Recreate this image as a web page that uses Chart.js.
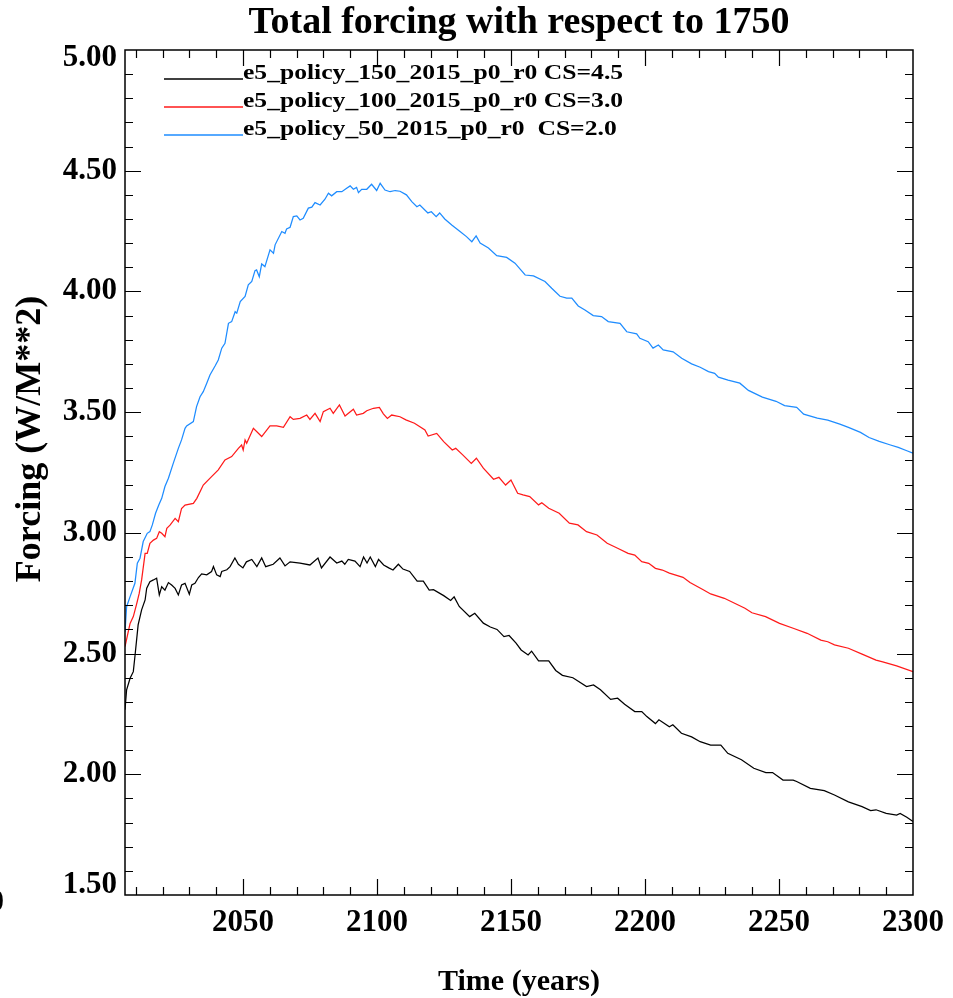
<!DOCTYPE html>
<html>
<head>
<meta charset="utf-8">
<script src="https://cdn.jsdelivr.net/npm/chart.js@4.4.0/dist/chart.umd.min.js"></script>
<style>
  html, body { margin: 0; padding: 0; background: #fff; }
  #wrap { width: 953px; height: 998px; }
</style>
</head>
<body>
<div id="wrap"><canvas id="forcingChart" width="953" height="998"></canvas></div>
<script>
// Series (year, W/m^2)
const blackYears = [2006.0, 2006.6, 2007.9, 2009.1, 2009.7, 2010.9, 2012.2, 2013.5, 2014.1, 2015.3, 2016.6, 2017.8, 2018.8, 2019.7, 2020.9, 2022.2, 2023.4, 2024.7, 2025.9, 2027.1, 2028.4, 2030.0, 2030.9, 2032.1, 2033.4, 2034.6, 2036.5, 2038.3, 2039.0, 2040.2, 2041.5, 2042.1, 2044.0, 2045.2, 2047.0, 2048.3, 2050.0, 2051.3, 2053.3, 2055.2, 2057.0, 2058.5, 2061.3, 2063.8, 2065.7, 2067.6, 2071.3, 2075.0, 2078.0, 2079.3, 2082.5, 2085.0, 2086.9, 2088.0, 2089.3, 2091.8, 2093.7, 2095.0, 2096.3, 2097.5, 2099.4, 2100.6, 2102.5, 2104.4, 2106.0, 2108.0, 2109.7, 2112.2, 2115.0, 2117.3, 2119.5, 2121.1, 2124.9, 2127.5, 2128.8, 2130.7, 2134.6, 2136.5, 2139.7, 2142.3, 2144.8, 2147.4, 2149.3, 2151.9, 2153.8, 2156.4, 2157.7, 2160.3, 2164.1, 2166.7, 2169.2, 2173.1, 2178.2, 2180.8, 2183.4, 2187.2, 2189.8, 2192.4, 2196.2, 2198.8, 2200.7, 2203.9, 2205.2, 2209.1, 2210.4, 2213.6, 2217.4, 2220.6, 2224.5, 2228.3, 2230.9, 2236.0, 2240.6, 2245.1, 2247.6, 2251.5, 2255.3, 2256.6, 2261.7, 2266.9, 2270.7, 2275.9, 2281.0, 2284.2, 2286.2, 2290.0, 2293.9, 2295.2, 2297.7, 2300.0];
const blackValues = [2.267, 2.350, 2.398, 2.425, 2.488, 2.619, 2.681, 2.722, 2.771, 2.798, 2.805, 2.812, 2.743, 2.777, 2.763, 2.794, 2.784, 2.770, 2.743, 2.784, 2.791, 2.746, 2.784, 2.791, 2.815, 2.830, 2.826, 2.840, 2.861, 2.826, 2.819, 2.840, 2.847, 2.860, 2.896, 2.870, 2.855, 2.880, 2.890, 2.860, 2.896, 2.860, 2.870, 2.896, 2.863, 2.880, 2.875, 2.867, 2.896, 2.855, 2.900, 2.875, 2.883, 2.870, 2.890, 2.883, 2.860, 2.900, 2.875, 2.900, 2.860, 2.890, 2.867, 2.855, 2.846, 2.870, 2.850, 2.840, 2.800, 2.800, 2.763, 2.765, 2.740, 2.720, 2.735, 2.695, 2.653, 2.667, 2.626, 2.610, 2.600, 2.570, 2.575, 2.543, 2.515, 2.494, 2.510, 2.470, 2.470, 2.430, 2.410, 2.400, 2.363, 2.370, 2.350, 2.310, 2.315, 2.290, 2.260, 2.260, 2.239, 2.210, 2.226, 2.197, 2.205, 2.170, 2.155, 2.135, 2.121, 2.121, 2.087, 2.060, 2.025, 2.007, 2.007, 1.976, 1.976, 1.970, 1.942, 1.932, 1.914, 1.886, 1.866, 1.850, 1.853, 1.838, 1.831, 1.838, 1.822, 1.804];

const redYears = [2006.0, 2007.2, 2007.9, 2009.1, 2010.4, 2011.3, 2012.2, 2013.5, 2014.3, 2015.3, 2016.6, 2017.8, 2018.8, 2019.7, 2020.9, 2021.6, 2022.8, 2024.7, 2025.9, 2027.1, 2028.4, 2031.5, 2032.8, 2035.2, 2038.3, 2040.8, 2043.3, 2045.8, 2048.3, 2049.5, 2050.1, 2050.8, 2051.4, 2053.9, 2057.0, 2060.1, 2062.6, 2065.1, 2067.6, 2068.8, 2071.3, 2073.8, 2075.0, 2076.9, 2078.8, 2080.0, 2082.5, 2083.7, 2086.0, 2088.1, 2091.2, 2092.4, 2094.9, 2096.2, 2098.7, 2100.9, 2102.4, 2103.9, 2105.5, 2108.6, 2110.8, 2114.0, 2117.9, 2119.1, 2122.3, 2124.9, 2128.1, 2129.4, 2132.0, 2135.2, 2137.1, 2139.7, 2143.5, 2145.5, 2148.0, 2150.0, 2152.5, 2154.5, 2157.0, 2160.3, 2161.5, 2164.1, 2168.0, 2171.8, 2175.0, 2178.2, 2182.1, 2185.9, 2189.8, 2193.7, 2196.2, 2198.8, 2201.4, 2203.9, 2206.5, 2209.1, 2214.2, 2216.8, 2221.9, 2224.5, 2229.6, 2234.8, 2237.3, 2239.9, 2245.0, 2250.2, 2255.3, 2260.5, 2265.6, 2268.2, 2270.7, 2275.9, 2281.0, 2286.2, 2288.7, 2293.9, 2300.0];
const redValues = [2.529, 2.590, 2.625, 2.653, 2.708, 2.749, 2.805, 2.915, 2.915, 2.957, 2.970, 2.977, 3.005, 2.998, 2.984, 3.019, 3.032, 3.060, 3.046, 3.101, 3.115, 3.122, 3.143, 3.198, 3.233, 3.261, 3.302, 3.316, 3.350, 3.364, 3.343, 3.385, 3.371, 3.433, 3.399, 3.443, 3.443, 3.437, 3.481, 3.470, 3.474, 3.488, 3.470, 3.495, 3.461, 3.502, 3.516, 3.495, 3.530, 3.484, 3.512, 3.488, 3.495, 3.506, 3.516, 3.520, 3.493, 3.474, 3.488, 3.481, 3.468, 3.454, 3.426, 3.401, 3.412, 3.378, 3.343, 3.350, 3.323, 3.288, 3.309, 3.268, 3.222, 3.230, 3.198, 3.219, 3.164, 3.157, 3.150, 3.116, 3.125, 3.102, 3.081, 3.040, 3.033, 3.005, 2.991, 2.957, 2.936, 2.915, 2.908, 2.881, 2.874, 2.853, 2.846, 2.833, 2.816, 2.794, 2.763, 2.747, 2.729, 2.701, 2.688, 2.669, 2.653, 2.625, 2.605, 2.584, 2.556, 2.549, 2.536, 2.522, 2.498, 2.473, 2.466, 2.449, 2.425];

const blueYears = [2006.0, 2006.6, 2007.9, 2009.7, 2010.6, 2011.6, 2012.8, 2014.3, 2015.3, 2016.2, 2017.4, 2018.6, 2019.7, 2020.9, 2022.2, 2024.0, 2025.9, 2027.1, 2028.4, 2029.0, 2031.5, 2032.7, 2034.0, 2035.2, 2036.5, 2037.7, 2039.6, 2040.8, 2042.1, 2043.3, 2044.6, 2045.8, 2047.1, 2047.7, 2049.0, 2050.8, 2052.0, 2053.3, 2054.5, 2055.1, 2056.1, 2057.0, 2058.2, 2060.1, 2061.4, 2062.0, 2064.5, 2065.7, 2066.3, 2067.6, 2068.8, 2070.1, 2071.3, 2072.5, 2074.4, 2075.7, 2076.9, 2078.8, 2080.6, 2081.9, 2083.1, 2085.0, 2086.9, 2088.7, 2090.0, 2091.2, 2092.4, 2093.1, 2094.3, 2096.2, 2098.0, 2099.9, 2101.2, 2103.0, 2104.9, 2106.8, 2108.6, 2111.0, 2113.0, 2114.9, 2116.0, 2119.0, 2120.3, 2122.1, 2123.4, 2125.3, 2127.9, 2131.0, 2133.4, 2135.4, 2137.0, 2138.5, 2141.6, 2144.7, 2148.4, 2151.5, 2155.3, 2158.4, 2162.7, 2165.2, 2168.3, 2170.8, 2172.7, 2175.1, 2177.6, 2180.7, 2183.8, 2186.3, 2190.7, 2193.2, 2196.9, 2198.1, 2201.2, 2203.0, 2205.0, 2206.8, 2210.5, 2213.7, 2217.4, 2220.6, 2223.7, 2226.0, 2227.4, 2231.0, 2235.4, 2238.6, 2243.8, 2248.9, 2252.1, 2256.6, 2259.2, 2264.3, 2268.2, 2272.7, 2275.9, 2280.4, 2283.6, 2287.4, 2291.3, 2294.5, 2297.7, 2300.0];
const blueValues = [2.590, 2.694, 2.736, 2.791, 2.874, 2.895, 2.964, 2.998, 3.005, 3.033, 3.081, 3.115, 3.143, 3.192, 3.226, 3.288, 3.350, 3.385, 3.433, 3.443, 3.461, 3.523, 3.564, 3.585, 3.620, 3.654, 3.691, 3.716, 3.765, 3.785, 3.868, 3.875, 3.916, 3.910, 3.958, 3.979, 4.027, 4.041, 4.086, 4.089, 4.061, 4.114, 4.103, 4.172, 4.158, 4.193, 4.248, 4.241, 4.259, 4.266, 4.310, 4.313, 4.296, 4.303, 4.345, 4.349, 4.368, 4.358, 4.382, 4.407, 4.396, 4.413, 4.413, 4.427, 4.437, 4.423, 4.431, 4.409, 4.423, 4.423, 4.444, 4.418, 4.448, 4.420, 4.413, 4.418, 4.415, 4.400, 4.372, 4.351, 4.358, 4.325, 4.330, 4.310, 4.325, 4.300, 4.275, 4.248, 4.227, 4.206, 4.230, 4.200, 4.180, 4.148, 4.141, 4.117, 4.068, 4.064, 4.041, 4.013, 3.980, 3.972, 3.972, 3.940, 3.923, 3.900, 3.896, 3.875, 3.868, 3.833, 3.824, 3.806, 3.792, 3.765, 3.778, 3.758, 3.750, 3.723, 3.700, 3.686, 3.668, 3.661, 3.645, 3.633, 3.620, 3.590, 3.562, 3.545, 3.527, 3.520, 3.492, 3.475, 3.467, 3.450, 3.437, 3.416, 3.395, 3.379, 3.365, 3.354, 3.340, 3.330];

const seriesLabels = [
  'e5_policy_150_2015_p0_r0 CS=4.5',
  'e5_policy_100_2015_p0_r0 CS=3.0',
  'e5_policy_50_2015_p0_r0  CS=2.0'
];
const seriesColors = ['#000000', '#ff1a1a', '#1e8cff'];

const xTickValues = [2050, 2100, 2150, 2200, 2250, 2300];
const xTickLabels = ['2050', '2100', '2150', '2200', '2250', '2300'];
const yTickValues = [1.5, 2.0, 2.5, 3.0, 3.5, 4.0, 4.5, 5.0];
const yTickLabels = ['1.50', '2.00', '2.50', '3.00', '3.50', '4.00', '4.50', '5.00'];

const SERIF = "'Liberation Serif', 'Times New Roman', serif";

function toPoints(xs, ys) {
  return xs.map((x, i) => ({ x: x, y: ys[i] }));
}

// IDL-style box: inward ticks on all four sides, y labels, legend, rotated y title
const idlFrame = {
  id: 'idlFrame',
  afterDatasetsDraw(chart) {
    const { ctx, chartArea: a, scales: { x, y } } = chart;
    ctx.save();
    ctx.strokeStyle = '#000';
    ctx.lineWidth = 1.5;
    ctx.strokeRect(a.left, a.top, a.right - a.left, a.bottom - a.top);

    ctx.lineWidth = 1.2;
    ctx.beginPath();
    for (let v = 2010; v < 2300; v += 10) {
      const px = Math.round(x.getPixelForValue(v)) + 0.5;
      const len = v % 50 === 0 ? 16 : 8;
      ctx.moveTo(px, a.bottom); ctx.lineTo(px, a.bottom - len);
      ctx.moveTo(px, a.top); ctx.lineTo(px, a.top + len);
    }
    for (let i = 16; i < 50; i++) {
      const py = Math.round(y.getPixelForValue(i / 10)) + 0.5;
      const len = i % 5 === 0 ? 16 : 8;
      ctx.moveTo(a.left, py); ctx.lineTo(a.left + len, py);
      ctx.moveTo(a.right, py); ctx.lineTo(a.right - len, py);
    }
    ctx.stroke();

    // y tick labels, end labels kept inside the box like IDL does
    ctx.fillStyle = '#000';
    ctx.font = 'bold 31px ' + SERIF;
    ctx.textAlign = 'right';
    ctx.textBaseline = 'middle';
    yTickValues.forEach((v, i) => {
      const py = Math.min(Math.max(y.getPixelForValue(v), a.top + 8), a.bottom - 10);
      ctx.fillText(yTickLabels[i], a.left - 8, py);
    });

    // legend
    ctx.textAlign = 'left';
    ctx.textBaseline = 'alphabetic';
    chart.data.datasets.forEach((ds, i) => {
      const ly = 79 + i * 28;
      ctx.strokeStyle = ds.borderColor;
      ctx.lineWidth = 1.4;
      ctx.beginPath();
      ctx.moveTo(164, ly);
      ctx.lineTo(243, ly);
      ctx.stroke();
      ctx.save();
      ctx.translate(243, ly);
      ctx.scale(1.28, 1);
      ctx.font = 'bold 20px ' + SERIF;
      ctx.fillStyle = '#000';
      ctx.fillText(ds.label, 0, 0);
      ctx.restore();
    });

    // y axis title
    ctx.save();
    ctx.translate(31, 439);
    ctx.rotate(-Math.PI / 2);
    ctx.font = 'bold 36px ' + SERIF;
    ctx.textAlign = 'center';
    ctx.textBaseline = 'middle';
    ctx.fillText('Forcing (W/M**2)', 0, 0);
    ctx.restore();

    // stray clipped label at the left edge
    ctx.font = 'bold 31px ' + SERIF;
    ctx.textAlign = 'right';
    ctx.textBaseline = 'middle';
    ctx.fillText('0', 4, 903);
    ctx.restore();
  }
};

new Chart(document.getElementById('forcingChart'), {
  type: 'line',
  data: {
    datasets: [
      { label: seriesLabels[0], data: toPoints(blackYears, blackValues), borderColor: seriesColors[0] },
      { label: seriesLabels[1], data: toPoints(redYears, redValues), borderColor: seriesColors[1] },
      { label: seriesLabels[2], data: toPoints(blueYears, blueValues), borderColor: seriesColors[2] }
    ].map(ds => Object.assign(ds, { borderWidth: 1.25, pointRadius: 0, tension: 0, fill: false }))
  },
  options: {
    responsive: false,
    animation: false,
    devicePixelRatio: 1,
    layout: { padding: { top: 0, right: 40, bottom: 0, left: 0 } },
    plugins: {
      legend: { display: false },
      tooltip: { enabled: false },
      title: {
        display: true,
        fullSize: false,
        text: 'Total forcing with respect to 1750',
        color: '#000',
        font: { family: SERIF, size: 38, weight: 'bold', lineHeight: 1 },
        padding: { top: 4, bottom: 8 }
      }
    },
    scales: {
      x: {
        type: 'linear',
        min: 2006,
        max: 2300,
        afterBuildTicks: s => { s.ticks = xTickValues.map(v => ({ value: v })); },
        afterFit: s => { s.height = 103; },
        grid: { display: false, drawTicks: false },
        border: { display: false },
        ticks: {
          autoSkip: false,
          maxRotation: 0,
          padding: 9,
          color: '#000',
          font: { family: SERIF, size: 31, weight: 'bold' },
          callback: (v, i) => xTickLabels[i]
        },
        title: {
          display: true,
          text: 'Time (years)',
          color: '#000',
          font: { family: SERIF, size: 30, weight: 'bold', lineHeight: 1 },
          padding: { top: 0, bottom: 1 }
        }
      },
      y: {
        min: 1.5,
        max: 5.0,
        afterBuildTicks: s => { s.ticks = yTickValues.map(v => ({ value: v })); },
        afterFit: s => { s.width = 125; },
        grid: { display: false, drawTicks: false },
        border: { display: false },
        ticks: { display: false }
      }
    }
  },
  plugins: [idlFrame]
});
</script>
</body>
</html>
